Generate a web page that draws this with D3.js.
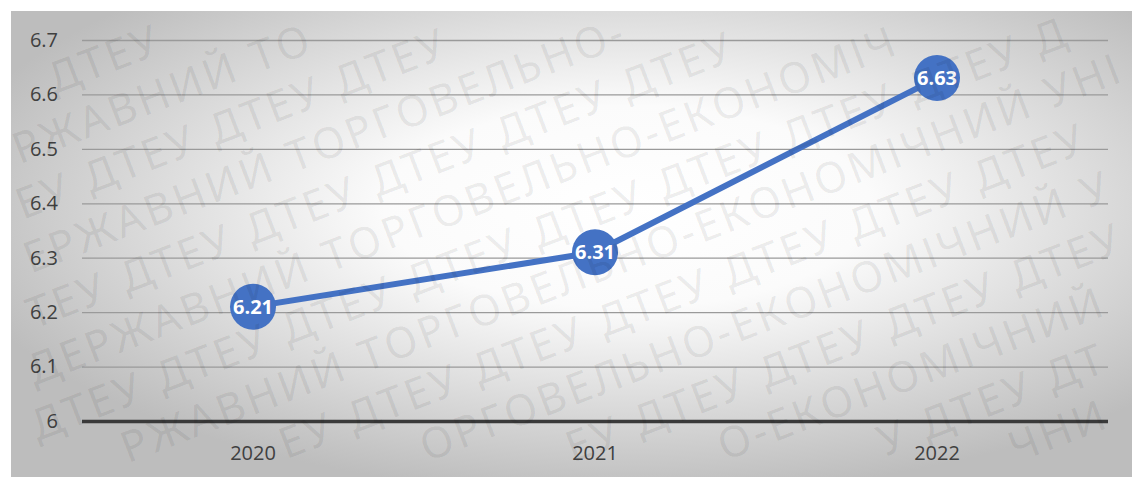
<!DOCTYPE html>
<html>
<head>
<meta charset="utf-8">
<script src="https://cdn.jsdelivr.net/npm/d3@7"></script>
<style>
  html, body { margin: 0; padding: 0; background: #fff; }
  svg { display: block; }
</style>
</head>
<body>
<svg id="chart" width="1132" height="477"></svg>
<script>
// Chart data
const years = ["2020", "2021", "2022"];
const values = [6.21, 6.31, 6.63];
const yTicks = [6, 6.1, 6.2, 6.3, 6.4, 6.5, 6.6, 6.7];
const yTickLabels = ["6", "6.1", "6.2", "6.3", "6.4", "6.5", "6.6", "6.7"];
const watermarkRows = [
  "ДТЕУ ДТЕУ ДТЕУ ДТЕУ ДТЕУ ДТЕУ ДТЕУ ДТЕУ ДТЕУ ДТЕУ ДТЕУ ДТЕУ ДТЕУ ДТЕУ ДТЕУ ДТЕУ",
  "ДЕРЖАВНИЙ ТОРГОВЕЛЬНО-ЕКОНОМІЧНИЙ УНІВЕРСИТЕТ ДЕРЖАВНИЙ ТОРГОВЕЛЬНО-ЕКОНОМІЧНИЙ УНІВЕРСИТЕТ"
];

const W = 1132, H = 477;
const svg = d3.select("#chart");

const margin = { left: 82, right: 24, top: 40, bottom: 56 };

// Background panel with radial gradient
const defs = svg.append("defs");
const grad = defs.append("radialGradient")
  .attr("id", "bgGrad")
  .attr("cx", "0.55").attr("cy", "0.42").attr("r", "0.62")
  .attr("fx", "0.55").attr("fy", "0.42");
grad.append("stop").attr("offset", "0").attr("stop-color", "#ffffff");
grad.append("stop").attr("offset", "0.35").attr("stop-color", "#fbfbfb");
grad.append("stop").attr("offset", "1").attr("stop-color", "#bdbdbd");

svg.append("rect")
  .attr("x", 11).attr("y", 11)
  .attr("width", W - 11).attr("height", H - 11)
  .attr("fill", "url(#bgGrad)");

// Scales
const x = d3.scaleBand()
  .domain(years)
  .range([margin.left, W - margin.right]);

const y = d3.scaleLinear()
  .domain([6, 6.7])
  .range([H - margin.bottom, margin.top]);

// Horizontal gridlines and value axis labels
const yAxis = d3.axisLeft(y)
  .tickValues(yTicks)
  .tickSize(-(W - margin.right - margin.left))
  .tickFormat((d, i) => yTickLabels[i]);

const gy = svg.append("g")
  .attr("transform", `translate(${margin.left},0)`)
  .call(yAxis);
gy.select(".domain").remove();
gy.selectAll(".tick line")
  .attr("stroke", d => d === 6 ? "#3a3a3a" : "#9a9a9a")
  .attr("stroke-width", d => d === 6 ? 3.5 : 1.3);
gy.selectAll(".tick text")
  .attr("x", -24)
  .attr("fill", "#404040")
  .style("font-family", "'Open Sans', sans-serif")
  .style("font-size", "20px");

// Category axis labels
const xAxis = d3.axisBottom(x).tickSize(0);
const gx = svg.append("g")
  .attr("transform", `translate(0,${H - margin.bottom})`)
  .call(xAxis);
gx.select(".domain").remove();
gx.selectAll(".tick text")
  .attr("dy", "0")
  .attr("y", 39)
  .attr("fill", "#404040")
  .style("font-family", "'Open Sans', sans-serif")
  .style("font-size", "20px");

// Series line
const pts = years.map((yr, i) => [x(yr) + x.bandwidth() / 2, y(values[i])]);
const line = d3.line();

svg.append("path")
  .attr("d", line(pts))
  .attr("fill", "none")
  .attr("stroke", "#4472C4")
  .attr("stroke-width", 6)
  .attr("stroke-linecap", "round")
  .attr("stroke-linejoin", "round");

// Markers with value labels
const marks = svg.append("g").selectAll("g")
  .data(years.map((yr, i) => ({ yr, v: values[i] })))
  .join("g")
  .attr("transform", d => `translate(${x(d.yr) + x.bandwidth() / 2},${y(d.v)})`);

marks.append("circle")
  .attr("r", 23)
  .attr("fill", "#4472C4");

marks.append("text")
  .attr("text-anchor", "middle")
  .attr("dy", "0.36em")
  .attr("fill", "#ffffff")
  .style("font-family", "'Open Sans', sans-serif")
  .style("font-weight", "700")
  .style("font-size", "20px")
  .text(d => d.v.toFixed(2));

// Diagonal watermark overlay, laid out letter by letter so that only
// glyphs whose whole box lies inside the drawing are kept
const angle = -21;
const rad = angle * Math.PI / 180;
const cosA = Math.cos(rad), sinA = Math.sin(rad);
const fs = 43, tracking = 3, spaceW = fs * 0.3, rowGap = 53;
const wm = svg.append("g")
  .attr("transform", `translate(${W / 2},${H / 2}) rotate(${angle})`)
  .attr("pointer-events", "none")
  .style("font-family", "'Noto Sans', sans-serif")
  .style("font-size", fs + "px")
  .attr("fill", "#000")
  .attr("fill-opacity", 0.075);

function inside(px, py) {
  const X = W / 2 + px * cosA - py * sinA;
  const Y = H / 2 + px * sinA + py * cosA;
  return X >= 1 && X <= W - 1 && Y >= 1 && Y <= H - 1;
}

d3.range(-9, 10).forEach(k => {
  const txt = watermarkRows[((k % 2) + 2) % 2];
  const baseY = k * rowGap;
  let cx = -700 + (((k * 149) % 300) + 300) % 300;
  for (const ch of txt) {
    if (cx > 700) break;
    if (ch === " ") { cx += spaceW + tracking; continue; }
    const t = wm.append("text").attr("x", cx).attr("y", baseY).text(ch);
    const b = t.node().getBBox();
    const ok = inside(b.x, b.y) && inside(b.x + b.width, b.y) &&
               inside(b.x, b.y + b.height) && inside(b.x + b.width, b.y + b.height);
    if (!ok) t.remove();
    cx += b.width + tracking;
  }
});
</script>
</body>
</html>
